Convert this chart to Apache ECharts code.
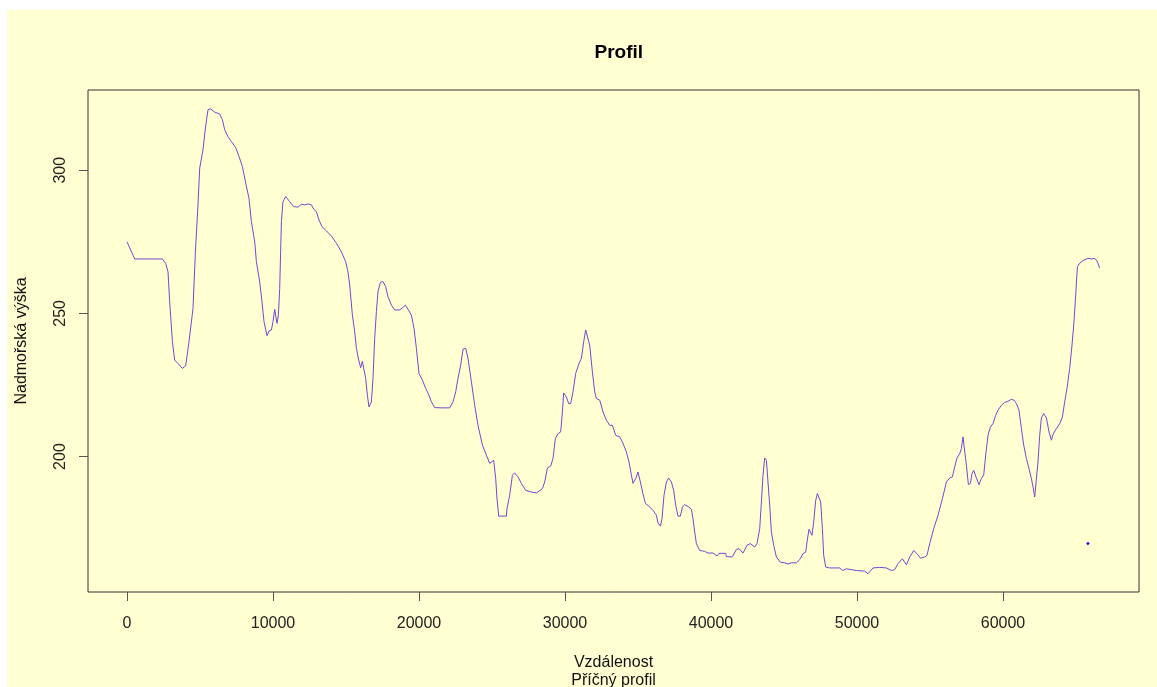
<!DOCTYPE html>
<html>
<head>
<meta charset="utf-8">
<script src="https://cdn.jsdelivr.net/npm/echarts@6/dist/echarts.min.js"></script>
<style>
html,body{margin:0;padding:0;background:#ffffff;}
#c{width:1157px;height:687px;}
</style>
</head>
<body>
<div id="c"></div>
<script>
// distance (m)
var distance = [
0,527,2425,2650,2810,2925,3110,3267,3493,3794,4020,4247,4521,4685,4863,4979,5205,5370,5548,5712,6007,6349,6534,6692,6918,7150,7445,7671,7904,8130,8356,8521,8747,8863,9089,9247,9384,9589,9726,9890,10000,10116,10274,10370,10459,10575,10685,10870,11144,11418,11712,
11945,12171,12397,12630,12788,12973,13151,13356,13658,14000,14342,14685,14979,15137,15253,15438,15596,15712,15870,16007,16123,16233,16349,16466,16575,16740,16849,16966,17082,17192,17356,17534,17719,17877,18110,18336,18678,18904,19068,19247,19479,19658,19822,20000,20233,20459,20685,20849,21075,21534,22103,22329,22514,22671,22856,23014,23199,23356,23589,23815,24041,24342,24616,24842,25116,25253,25342,25459,25984,
26027,26212,26397,26555,26781,27014,27308,27699,28041,28219,28452,28610,28795,29021,29178,29342,29521,29705,29822,29911,30096,30253,30390,30548,30733,30938,31123,31281,31418,31534,31692,31877,32034,32151,32377,32603,32836,33062,33247,33473,33747,33932,34205,34384,34548,34658,34842,35000,35164,35342,35507,35733,36027,36260,36370,36534,36644,36781,36945,37103,37288,37445,37582,37740,37904,38041,38199,38473,38658,38767,38884,39000,39226,39568,39795,40137,
40253,40411,40548,41007,41055,41466,41740,41918,42192,42466,42699,42993,43151,43336,43452,43562,43678,43795,43904,44021,44137,44295,44479,44753,45048,45274,45507,45849,46075,46301,46486,46575,46712,46808,46918,47034,47171,47288,47397,47514,47630,47719,47856,48130,48815,49000,49274,49315,49959,50527,50753,51096,51555,52014,52356,52582,52808,53110,53384,53610,53884,54110,54342,54637,
54795,54979,55253,55548,55849,56123,56349,56534,56692,56849,57034,57151,57260,57377,57493,57630,57767,57877,57993,58178,58356,58521,58678,58815,58973,59137,59315,59500,59658,59890,60116,60342,60575,60753,60918,61096,61260,61418,61603,61781,61945,62055,62171,62288,62397,62514,62630,62788,62973,63151,63315,63425,63658,63884,64068,64226,64384,64568,64726,64863,64979,65096,65253,65479,65822,66055,66281,66438,66623
];
// elevation (m)
var elevation = [
275,269,269,267.5,264.5,254,240.1,233.7,232.5,230.8,231.7,240.1,251.7,271.5,287.9,300.7,307.1,314.7,321.1,321.4,320.3,319.6,317.6,314.1,311.7,310,307.9,304.8,301.3,295.5,290.2,282,275,268,261,254,247.1,242.2,243.8,244.2,247.1,251.4,246.5,249.4,258.7,282,289,290.8,289,287.3,287.1,
288.1,287.9,288.2,287.9,286.4,285.5,282.6,280.3,278.8,277,274.5,271.5,268,264.5,259.9,249.4,243.6,237.8,233.7,231,233.3,233.1,227.3,221.4,217.3,219.1,227.3,241.3,250.6,257.6,260.8,261.1,259.3,255.8,252.9,251.2,251.2,252.1,252.9,251.4,249.4,244.8,237.8,229,226.7,223.8,221.4,219.1,217.1,217,217,219.1,222.6,227.3,231.9,237.5,237.8,234.3,226.1,217.9,210.9,204,200.5,197.6,198.7,192.3,185.3,179.2,179.2,
181.8,186.5,193.5,194.3,192.9,190.6,188.2,187.6,187.3,187.9,188.8,191.1,196,196.7,199.3,206.3,208,208.6,215.6,222.2,220.8,218.5,218.5,222.6,229,232.2,234.3,240.1,244.2,244.4,238.9,229.6,222.6,220.3,219.7,215.6,212.7,210.9,210.9,207.4,206.9,205.1,201.6,198.1,193.5,190.6,192.3,194.6,191.1,187,183.6,182.7,181.2,179.5,176.8,175.7,178.3,186.5,191.1,192.5,191.1,188.2,183,179.2,179.2,182.4,183.2,182.4,181.6,178.3,173.6,169.6,167.2,166.9,166.3,166.3,
166.1,165.3,166.2,166.2,165,165,167.6,167.8,166.3,169,169.6,168.4,169.6,174.8,184.1,193.5,199.5,198.7,191.1,183,173.6,169,164.9,163.1,162.9,162.5,162.9,162.9,164,166.1,166.6,170.1,174.6,174.8,172.5,177.1,184.7,187.1,187.4,184.1,174.8,165.5,161.4,161.1,161.1,160.2,160.8,160.2,160.2,160,159.1,161.1,161.3,161.1,160.2,160.5,162.6,164.3,162.2,164.9,167.2,166.1,164.5,164.9,
165.5,169.6,174.8,179.5,185.3,191.1,192.5,192.9,196.4,199.5,201,202.8,206.9,206.3,197,190.2,190.6,194.1,195.2,192.5,190.2,192.3,193.5,200.5,207.4,210.3,211.5,214.4,216.2,217.9,218.9,219.3,220,219.7,218.5,216.2,209.8,204,199.3,195.8,192.3,189.4,185.9,186.5,198.1,207.4,213.5,215,213.5,208.6,205.7,207.7,209.8,211.5,213.8,219.1,223.8,230.8,238.9,247.1,256.4,266.3,267.5,268.4,269.2,269,269.2,268.3,265.9
];
// isolated marker
var markX = [65760, 65880];
var markY = [169.3, 170.0];

var xTicks = [0, 10000, 20000, 30000, 40000, 50000, 60000];
var yTicks = [200, 250, 300];

var FONT = '"Liberation Sans", Arial, sans-serif';

var profile = distance.map(function (d, i) { return [d, elevation[i]]; });
var mark = markX.map(function (d, i) { return [d, markY[i]]; });

var chart = echarts.init(document.getElementById('c'), null, {renderer: 'canvas'});
chart.setOption({
  animation: false,
  backgroundColor: '#ffffff',
  graphic: [{
    type: 'rect', z: -10, silent: true,
    shape: {x: 7, y: 10, width: 1150, height: 677},
    style: {fill: '#FFFFD2'}
  }],
  title: {
    text: 'Profil',
    left: 613.8, top: 38, textAlign: 'center',
    textStyle: {fontFamily: FONT, fontWeight: 'bold', fontSize: 19, color: '#000'}
  },
  grid: {
    left: 88, right: 18, top: 90, bottom: 95,
    show: true, borderColor: '#333', borderWidth: 1, backgroundColor: 'transparent',
    containLabel: false, outerBoundsMode: 'none'
  },
  xAxis: {
    type: 'value', min: -2671, max: 69315,
    name: 'Vzdálenost\nPříčný profil', nameLocation: 'middle', nameGap: 62,
    nameTextStyle: {fontFamily: FONT, fontSize: 16, color: '#111', lineHeight: 18},
    axisLine: {show: false, onZero: false},
    axisTick: {show: true, length: 9, customValues: xTicks, lineStyle: {color: '#555'}},
    axisLabel: {customValues: xTicks, margin: 24, fontFamily: FONT, fontSize: 16, color: '#222',
      formatter: function (v) { return String(v); }},
    splitLine: {show: false}
  },
  yAxis: {
    type: 'value', min: 152.7, max: 328,
    name: 'Nadmořská výška', nameLocation: 'middle', nameGap: 58, nameRotate: 90,
    nameTextStyle: {fontFamily: FONT, fontSize: 16, color: '#111'},
    axisLine: {show: false, onZero: false},
    axisTick: {show: true, length: 9, customValues: yTicks, lineStyle: {color: '#555'}},
    axisLabel: {customValues: yTicks, rotate: 90, margin: 19, fontFamily: FONT, fontSize: 16, color: '#222'},
    splitLine: {show: false}
  },
  series: [{
    type: 'line', data: profile, showSymbol: false, symbol: 'none',
    lineStyle: {color: '#7a44d4', width: 1}, z: 3
  }, {
    type: 'line', data: mark, showSymbol: false, symbol: 'none',
    lineStyle: {color: '#1010e0', width: 2.5}, z: 4
  }]
});
</script>
</body>
</html>
